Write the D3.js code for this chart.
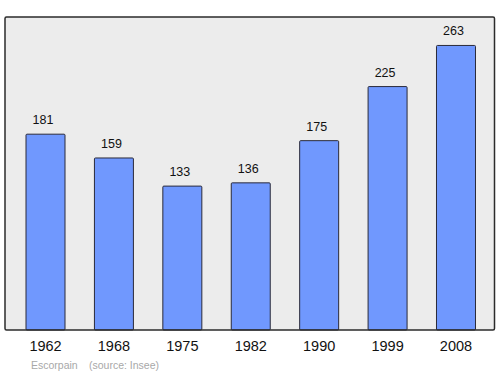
<!DOCTYPE html>
<html>
<head>
<meta charset="utf-8">
<script src="https://cdn.jsdelivr.net/npm/d3@7"></script>
<style>
  body { margin: 0; background: #fff; }
  text { font-family: "Liberation Sans", Arial, sans-serif; }
</style>
</head>
<body>
<div id="chart"></div>
<script>
// Population data (Escorpain, source: Insee)
const years = ['1962', '1968', '1975', '1982', '1990', '1999', '2008'];
const population = [181, 159, 133, 136, 175, 225, 263];
const sourceLabels = ['Escorpain', '(source: Insee)'];

const width = 500, height = 374;

// Plot frame
const frame = { left: 5, top: 17, right: 494.5, bottom: 330 };

const svg = d3.select('#chart')
  .append('svg')
  .attr('width', width)
  .attr('height', height);

// Scales
const x = d3.scaleBand()
  .domain(years)
  .range([11.3, 490.2])
  .paddingInner(0.43)
  .paddingOuter(0.215);

const y = d3.scaleLinear()
  .domain([0, d3.max(population) * 1.1])
  .range([frame.bottom, frame.top]);

const data = years.map((yr, i) => ({ year: yr, value: population[i] }));

// Background panel
svg.append('rect')
  .attr('x', frame.left)
  .attr('y', frame.top)
  .attr('width', frame.right - frame.left)
  .attr('height', frame.bottom - frame.top)
  .attr('rx', 1.5)
  .attr('fill', '#ececec')
  .attr('stroke', 'none');

// Bars
svg.selectAll('.bar')
  .data(data)
  .enter()
  .append('rect')
  .attr('class', 'bar')
  .attr('x', d => x(d.year))
  .attr('y', d => y(d.value))
  .attr('width', x.bandwidth())
  .attr('height', d => y(0) - y(d.value))
  .attr('rx', 1)
  .attr('fill', '#7098fe')
  .attr('stroke', '#2a2a3a')
  .attr('stroke-width', 1);

// Frame border on top
svg.append('rect')
  .attr('x', frame.left)
  .attr('y', frame.top)
  .attr('width', frame.right - frame.left)
  .attr('height', frame.bottom - frame.top)
  .attr('rx', 1.5)
  .attr('fill', 'none')
  .attr('stroke', '#2b2b2b')
  .attr('stroke-width', 1.5);

// Value labels (sit slightly left of the bar centre, as in the original)
svg.selectAll('.value-label')
  .data(data)
  .enter()
  .append('text')
  .attr('class', 'value-label')
  .attr('x', d => x(d.year) + x.bandwidth() / 2 - 2.5)
  .attr('y', d => y(d.value) - 10)
  .attr('text-anchor', 'middle')
  .attr('font-size', '12.5px')
  .attr('fill', '#111')
  .text(d => d.value);

// X axis labels (no line, no ticks)
const xAxis = svg.append('g')
  .attr('class', 'x-axis')
  .attr('transform', `translate(0,${frame.bottom})`)
  .call(d3.axisBottom(x).tickSize(0).tickPadding(11));

xAxis.select('path').style('display', 'none');
xAxis.selectAll('text')
  .attr('font-size', '14.5px')
  .attr('fill', '#111')
  .style('font-family', '"Liberation Sans", Arial, sans-serif');

// Source note
svg.append('text')
  .attr('x', 31)
  .attr('y', 369)
  .attr('font-size', '10.5px')
  .attr('fill', '#a8a8a8')
  .text(sourceLabels[0]);

svg.append('text')
  .attr('x', 89)
  .attr('y', 369)
  .attr('font-size', '10.5px')
  .attr('fill', '#a8a8a8')
  .text(sourceLabels[1]);
</script>
</body>
</html>
